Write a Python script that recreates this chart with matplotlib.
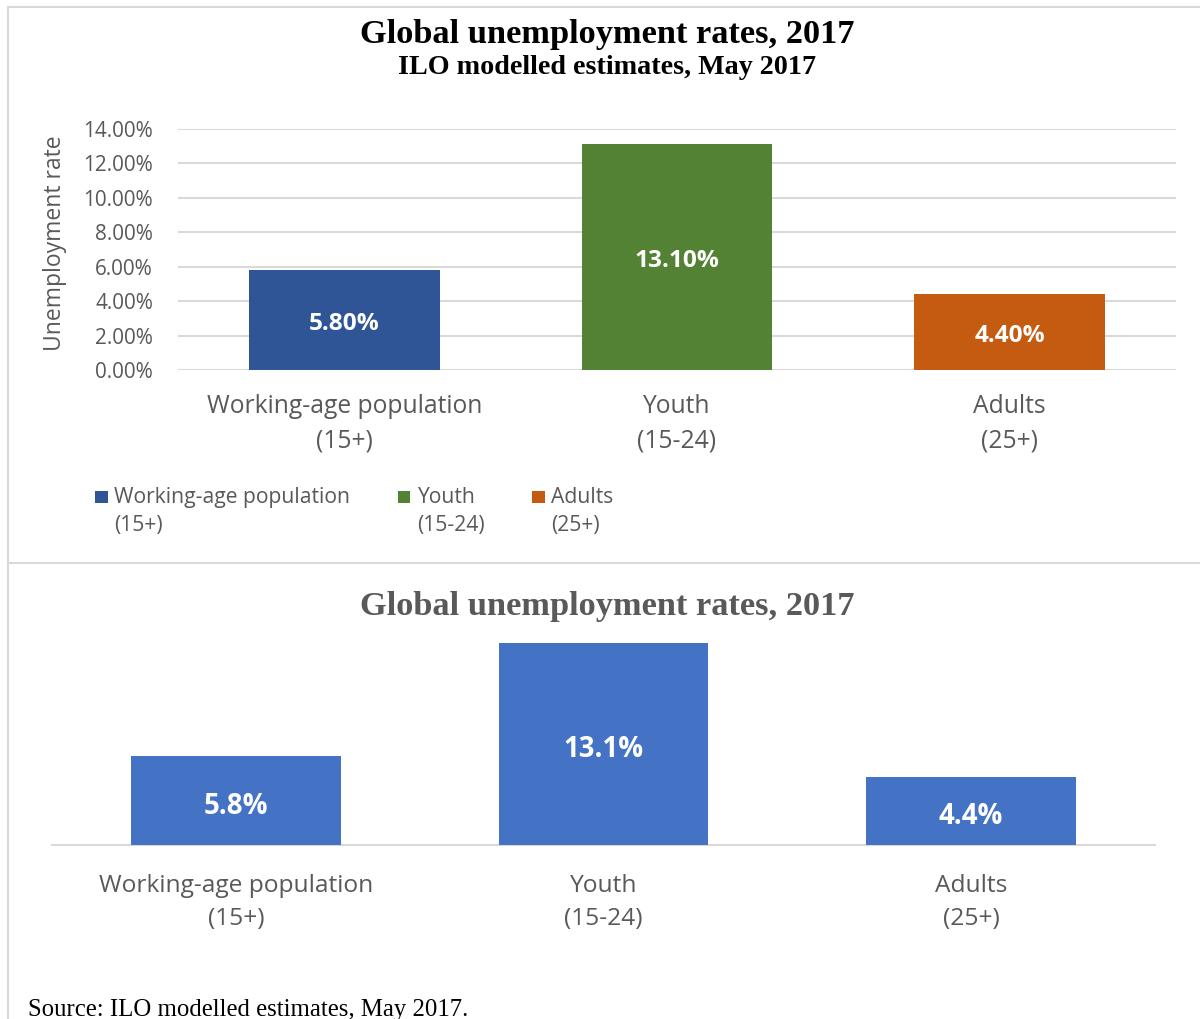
import matplotlib
matplotlib.use("Agg")
import matplotlib.pyplot as plt
from matplotlib.lines import Line2D
from matplotlib.patches import Patch, Rectangle
from matplotlib.legend_handler import HandlerPatch

# ---------------- data ----------------
categories = ["Working-age population\n(15+)", "Youth\n(15-24)", "Adults\n(25+)"]
rates = [5.80, 13.10, 4.40]
top_labels = ["5.80%", "13.10%", "4.40%"]
bottom_labels = ["5.8%", "13.1%", "4.4%"]
y_ticks = [0, 2, 4, 6, 8, 10, 12, 14]
y_tick_labels = ["0.00%", "2.00%", "4.00%", "6.00%", "8.00%", "10.00%", "12.00%", "14.00%"]
title = "Global unemployment rates, 2017"
subtitle = "ILO modelled estimates, May 2017"
source = "Source: ILO modelled estimates, May 2017."
top_colors = ["#2F5597", "#548235", "#C55A11"]
bottom_color = "#4472C4"

SANS = ["Open Sans", "DejaVu Sans"]
SERIF = ["Liberation Serif", "DejaVu Serif"]
GRAY = "#595959"
GRID = "#D9D9D9"

W, H = 1200, 1019
fig = plt.figure(figsize=(W / 100, H / 100), dpi=100)
fig.patch.set_facecolor("white")


def rect(x0, y0, x1, y1):
    return [x0 / W, 1 - y1 / H, (x1 - x0) / W, (y1 - y0) / H]


def fx(x):
    return x / W


def fy(y):
    return 1 - y / H


def fit_width(texts, target_px, use_height=False):
    fig.canvas.draw()
    r = fig.canvas.get_renderer()
    ext = texts[0].get_window_extent(r)
    cur = ext.height if use_height else ext.width
    ratio = target_px / cur
    for t in texts:
        t.set_fontsize(t.get_fontsize() * ratio)


class TopSquareHandler(HandlerPatch):
    """Square legend key aligned with the first line of a two-line label."""

    def create_artists(self, legend, orig_handle, xdescent, ydescent, width, height,
                       fontsize, trans):
        side = width
        dy = 0.9 * fontsize
        p = Rectangle((-xdescent, -ydescent + (height - side) / 2 + dy), side, side,
                      facecolor=orig_handle.get_facecolor(), edgecolor="none",
                      transform=trans)
        return [p]


# ---------------- borders ----------------
for (x0, y0, x1, y1) in [(8, 7, 1200, 7), (8, 563, 1200, 563), (8, 7, 8, 1019)]:
    fig.add_artist(Line2D([fx(x0), fx(x1)], [fy(y0), fy(y1)], color=GRID, lw=1.5,
                          transform=fig.transFigure))

# ---------------- top chart ----------------
ax1 = fig.add_axes(rect(178, 129, 1176, 370))
x = list(range(len(categories)))
bars1 = ax1.bar(x, rates, width=0.574, color=top_colors, zorder=3)
ax1.set_xlim(-0.5, 2.5)
ax1.set_ylim(0, 14)
ax1.set_yticks(y_ticks)
ax1.set_yticklabels(y_tick_labels, family=SANS, color=GRAY, fontsize=13)
ax1.set_xticks(x)
ax1.set_xticklabels(categories, family=SANS, color=GRAY, fontsize=16, linespacing=1.5)
ax1.tick_params(axis="both", length=0)
ax1.tick_params(axis="y", pad=18)
ax1.tick_params(axis="x", pad=17.5)
ax1.grid(axis="y", color=GRID, lw=1.5, zorder=0)
for s in ax1.spines.values():
    s.set_visible(False)
ax1.set_facecolor("none")

bl1 = []
for rect_, lab in zip(bars1, top_labels):
    bl1.append(ax1.annotate(lab, (rect_.get_x() + rect_.get_width() / 2, rect_.get_height() / 2),
                            xytext=(0, -2.9), textcoords="offset points",
                            ha="center", va="center", color="white", fontweight="bold",
                            family=SANS, fontsize=15, zorder=4))

ylab = fig.text(fx(55), fy(243), "Unemployment rate", rotation=90, ha="center", va="center",
                family=SANS, color=GRAY, fontsize=15)

t_title = fig.text(fx(607), fy(35), title, ha="center", va="center", family=SERIF,
                   fontweight="bold", color="black", fontsize=22)
t_sub = fig.text(fx(607), fy(68), subtitle, ha="center", va="center", family=SERIF,
                 fontweight="bold", color="black", fontsize=17)

handles = [Patch(facecolor=c, edgecolor="none") for c in top_colors]
leg = fig.legend(handles, categories, loc="upper left", bbox_to_anchor=(fx(95), fy(487)),
                 ncol=3, frameon=False, prop={"family": SANS, "size": 13},
                 handlelength=0.7, handleheight=0.7, handletextpad=0.35,
                 columnspacing=2.65, borderaxespad=0, borderpad=0,
                 handler_map={Patch: TopSquareHandler()})
for t in leg.get_texts():
    t.set_color(GRAY)
    t.set_linespacing(1.44)

# ---------------- bottom chart ----------------
ax2 = fig.add_axes(rect(52, 845 - 14 * 15.42, 1155, 845))
bars2 = ax2.bar(x, rates, width=0.571, color=bottom_color, zorder=3)
ax2.set_xlim(-0.5, 2.5)
ax2.set_ylim(0, 14)
ax2.set_yticks([])
ax2.set_xticks(x)
ax2.set_xticklabels(categories, family=SANS, color=GRAY, fontsize=16, linespacing=1.47)
ax2.tick_params(axis="x", length=0, pad=21)
for k, s in ax2.spines.items():
    s.set_visible(k == "bottom")
ax2.spines["bottom"].set_color(GRID)
ax2.spines["bottom"].set_linewidth(1.5)
ax2.set_facecolor("none")

bl2 = []
for rect_, lab in zip(bars2, bottom_labels):
    bl2.append(ax2.annotate(lab, (rect_.get_x() + rect_.get_width() / 2, rect_.get_height() / 2),
                            xytext=(0, -4.2), textcoords="offset points",
                            ha="center", va="center", color="white", fontweight="bold",
                            family=SANS, fontsize=16, zorder=4))

t_title2 = fig.text(fx(607), fy(607), title, ha="center", va="center", family=SERIF,
                    fontweight="bold", color=GRAY, fontsize=22)
t_src = fig.text(fx(28), fy(1010), source, ha="left", va="center", family=SERIF,
                 color="black", fontsize=16)

# ---------------- fit text sizes to the reference widths ----------------
fit_width([t_title], 495)
fit_width([t_sub], 418)
fit_width([t_title2], 495)
fit_width([t_src], 439)
fit_width(bl1[1:2] + bl1[:1] + bl1[2:], 85)
fit_width(bl2[1:2] + bl2[:1] + bl2[2:], 80)
fit_width([ylab], 215, use_height=True)
yt = ax1.get_yticklabels()
fit_width([yt[-1]] + list(yt[:-1]), 70)
fit_width(list(ax1.get_xticklabels()), 275)
fit_width(list(ax2.get_xticklabels()), 274)
fit_width(list(leg.get_texts()), 235)

fig.savefig("out.png", dpi=100)
